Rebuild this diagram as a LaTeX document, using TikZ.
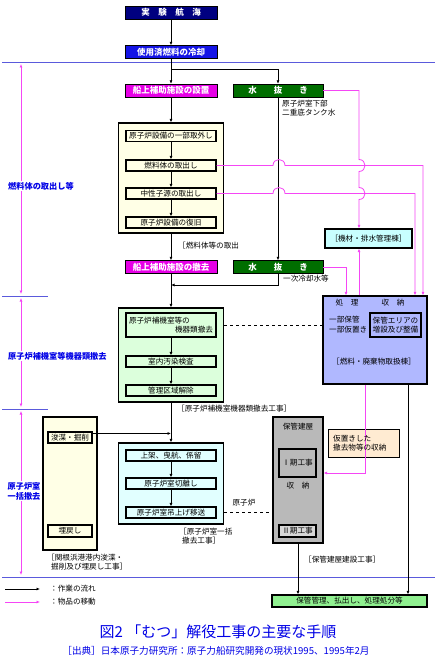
\documentclass[tikz,border=0pt]{standalone}
\usepackage{fontspec}
\setmainfont{Noto Sans CJK JP}
\usetikzlibrary{arrows.meta}

\definecolor{navyhd}{RGB}{0,0,128}
\definecolor{bluehd}{RGB}{20,20,230}
\definecolor{magenhd}{RGB}{230,0,230}
\definecolor{greenhd}{RGB}{0,110,0}
\definecolor{rulebl}{RGB}{90,90,220}
\definecolor{pinkline}{RGB}{245,70,245}
\definecolor{creamb}{RGB}{255,255,230}
\definecolor{mintb}{RGB}{220,255,220}
\definecolor{aquab}{RGB}{225,255,255}
\definecolor{grayb}{RGB}{185,185,185}
\definecolor{grayin}{RGB}{215,215,215}
\definecolor{lavb}{RGB}{176,184,255}
\definecolor{kizaib}{RGB}{200,255,255}
\definecolor{peachb}{RGB}{255,235,210}
\definecolor{finalb}{RGB}{144,240,144}
\definecolor{labelbl}{RGB}{0,0,230}

\newcommand\boxfont{\fontsize{7.6pt}{9.5pt}\selectfont}
\newcommand\hdrfont{\fontsize{8.5pt}{10pt}\selectfont\bfseries}

\tikzset{
  hdr/.style={draw=black, fill=#1, text=white, font=\hdrfont, minimum width=92pt, minimum height=13pt, inner sep=0pt},
  stepbox/.style={draw=black, line width=1.1pt, fill=#1, font=\boxfont, minimum width=90pt, minimum height=11pt, inner sep=0pt},
  frame/.style={draw=black, line width=1.2pt, fill=#1, inner sep=0pt},
  flow/.style={-{Latex[length=3.5pt,width=3pt]}, line width=0.7pt},
  move/.style={flow, draw=pinkline, line width=0.8pt},
  both/.style={{Latex[length=3.5pt,width=3pt]}-{Latex[length=3.5pt,width=3pt]}, draw=pinkline, line width=0.8pt},
  note/.style={inner sep=0pt, anchor=west, font=\boxfont, align=left},
  side/.style={inner sep=1pt, fill=white, text=labelbl, font=\fontsize{8.2pt}{10pt}\selectfont\bfseries, align=center},
  rule/.style={draw=rulebl, line width=0.9pt}
}

\begin{document}
\begin{tikzpicture}[x=1pt, y=-1pt]
\useasboundingbox[fill=white] (0,0) rectangle (439,663);

% stage rules
\draw[rule] (2,62) -- (435,62);
\draw[rule] (2,577) -- (435,577);
\draw[rule] (2,296) -- (48,296);
\draw[rule] (2,409) -- (48,409);
\draw[both] (21,64) -- (21,294);
\draw[both] (21,298) -- (21,407);
\draw[both] (21,411) -- (21,575);
\node[side, anchor=west] (lbl1) at (7,186) {燃料体の取出し等};
\node[side, anchor=west] (lbl2) at (7,356) {原子炉補機室等機器類撤去};
\node[side] (lbl3) at (24,491) {原子炉室\\一括撤去};

% headers
\node[hdr=navyhd] (voyage) at (171,12.5) {実　験　航　海};
\node[hdr=bluehd] (cool) at (171,52) {使用済燃料の冷却};
\node[hdr=magenhd] (setup) at (171,90.5) {船上補助施設の設置};
\node[hdr=greenhd, minimum width=90pt] (drain1) at (278,90.5) {水　　抜　　き};
\node[hdr=magenhd] (remove) at (171,267) {船上補助施設の撤去};
\node[hdr=greenhd, minimum width=90pt] (drain2) at (278,267) {水　　抜　　き};

% fuel removal
\node[frame=creamb, minimum width=105pt, minimum height=110pt] (outer1) at (171,178) {};
\node[stepbox=creamb] (b11) at (171,136) {原子炉設備の一部取外し};
\node[stepbox=creamb] (b12) at (171,165.5) {燃料体の取出し};
\node[stepbox=creamb] (b13) at (171,193.5) {中性子源の取出し};
\node[stepbox=creamb] (b14) at (171,222.5) {原子炉設備の復旧};

% auxiliary room
\node[frame=mintb, minimum width=105pt, minimum height=94pt] (outer2) at (171,355) {};
\node[stepbox=mintb, minimum height=24pt, text width=84pt, align=left] (b21) at (171,325)
  {原子炉補機室等の\\\hspace*{\fill}機器類撤去\hspace*{4pt}};
\node[stepbox=mintb] (b22) at (171,361.5) {室内汚染検査};
\node[stepbox=mintb] (b23) at (171,390.5) {管理区域解除};

% reactor room
\node[frame=aquab, minimum width=105pt, minimum height=81pt] (outer3) at (171,483.5) {};
\node[stepbox=aquab] (b31) at (171,455.5) {上架、曳航、係留};
\node[stepbox=aquab] (b32) at (171,483.5) {原子炉室切離し};
\node[stepbox=aquab] (b33) at (171,512.5) {原子炉室吊上げ移送};

% port works
\node[frame=creamb, minimum width=54pt, minimum height=133pt] (port) at (70,483.5) {};
\node[stepbox=creamb, minimum width=44pt] (dredge) at (70,437.5) {浚渫・掘削};
\node[stepbox=creamb, minimum width=44pt, minimum height=12pt] (refill) at (70,531) {埋戻し};

% storage building
\node[frame=grayb, minimum width=50pt, minimum height=126pt] (store) at (298,480) {};
\node[font=\boxfont] (storet) at (298,427) {保管建屋};
\node[stepbox=grayb, minimum width=37pt, minimum height=28pt] (ph1) at (297.5,463) {Ⅰ期工事};
\node[font=\boxfont] (storein) at (298,486) {収　納};
\node[stepbox=grayin, minimum width=37pt, minimum height=12pt] (ph2) at (297.5,531) {Ⅱ期工事};

% treatment building
\node[frame=lavb, minimum width=104pt, minimum height=88pt] (treat) at (375,340) {};
\node[font=\boxfont] (treat1) at (347,303) {処　理};
\node[font=\boxfont] (treat2) at (393,303) {収　納};
\node[note] (treat3) at (329,319.5) {一部保管};
\node[note] (treat4) at (329,330) {一部仮置き};
\node[stepbox=lavb, minimum width=51pt, minimum height=24pt, align=center] (area) at (395.5,325) {保管エリアの\\増設及び整備};
\node[font=\boxfont] (treat5) at (374,362) {［燃料・廃棄物取扱棟］};
\node[frame=kizaib, minimum width=87pt, minimum height=19pt, font=\boxfont] (kizai) at (368.5,238.5) {［機材・排水管理棟］};
\node[frame=peachb, line width=0.6pt, minimum width=71pt, minimum height=28pt] (temp) at (363.5,443) {};
\node[frame=finalb, minimum width=155pt, minimum height=12pt, font=\boxfont] (final) at (349.5,601) {保管管理、払出し、処理処分等};

% work flow
\coordinate (br1) at (171,69);
\draw[flow] (voyage) -- (cool);
\draw[flow] (cool) -- (setup);
\draw[flow] (br1) -| (drain1.north);
\draw[flow] (setup) -- (outer1);
\draw[flow] (b11) -- (b12);
\draw[flow] (b12) -- (b13);
\draw[flow] (b13) -- (b14);
\draw[flow] (outer1) -- (remove);
\draw[flow] (drain1) -- (drain2);
\draw[flow] (drain2.south) |- (171,285);
\draw[flow] (remove) -- (outer2);
\draw[flow] (b21) -- (b22);
\draw[flow] (b22) -- (b23);
\draw[flow] (outer2) -- (outer3);
\draw[flow] ([yshift=-2pt]dredge.north east) -- ([yshift=-2pt]dredge.north east -| outer3.north);
\draw[flow] (b31) -- (b32);
\draw[flow] (b32) -- (b33);
\draw[flow] (store.south) -- (store.south |- final.north);
\draw[flow] (408,0 |- treat.south) -- (408,0 |- final.north);
\draw[dashed, line width=0.5pt] (outer2.east |- b21) -- (treat.west |- b21);
\draw[dashed, line width=0.5pt] (outer3.east |- b33) -- (store.west |- b33);

% goods movement
\draw[move] (drain1.east) -- (359,90.5) -- (359,159.5)
  .. controls (367,159.5) and (367,171.5) .. (359,171.5) -- (359,187.5)
  .. controls (367,187.5) and (367,199.5) .. (359,199.5) -- (359,0 |- kizai.north);
\draw[move] (b12.east) -- (273,165.5) .. controls (273,157.5) and (285,157.5) .. (285,165.5)
  -- (423,165.5) -- (423,0 |- treat.north);
\draw[move] (b13.east) -- (273,193.5) .. controls (273,185.5) and (285,185.5) .. (285,193.5)
  -- (415,193.5) -- (415,0 |- treat.north);
\draw[move] (drain2.east) -| (346,0 |- treat.north);
\draw[move] (359,0 |- treat.north) -- (359,0 |- kizai.south);
\draw[move] (365,0 |- treat.south) |- (store.east |- 0,473);
\node[note] (tempt) at (333,443) {仮置きした\\撤去物等の収納};

% notes
\node[note] (n1) at (178,246) {［燃料体等の取出};
\node[note] (n2) at (282,108) {原子炉室下部\\二重底タンク水};
\node[note] (n3) at (283,279) {一次冷却水等};
\node[note] (n4) at (177,409) {［原子炉補機室機器類撤去工事］};
\node[note] (n5) at (179,536) {［原子炉室一括\\\hspace*{3pt}撤去工事］};
\node[note] (n6) at (47,562) {［関根浜港港内浚渫・\\\hspace*{4pt}掘削及び埋戻し工事］};
\node[note] (n7) at (304,560) {［保管建屋建設工事］};
\node[font=\boxfont] (n8) at (244,503) {原子炉};

% legend
\coordinate (lg1a) at (5,589);
\coordinate (lg1b) at (40,589);
\coordinate (lg2a) at (5,602);
\coordinate (lg2b) at (40,602);
\draw[flow] (lg1a) -- (lg1b);
\draw[move] (lg2a) -- (lg2b);
\node[note] (lg1) at (50,589) {：作業の流れ};
\node[note] (lg2) at (50,602) {：物品の移動};

% caption
\node[text=labelbl, font=\fontsize{15pt}{17pt}\selectfont] (title) at (218,632) {図2 「むつ」解役工事の主要な手順};
\node[text=labelbl, font=\fontsize{9.6pt}{11pt}\selectfont] (source) at (216,651) {［出典］日本原子力研究所：原子力船研究開発の現状1995、1995年2月};
\end{tikzpicture}
\end{document}
